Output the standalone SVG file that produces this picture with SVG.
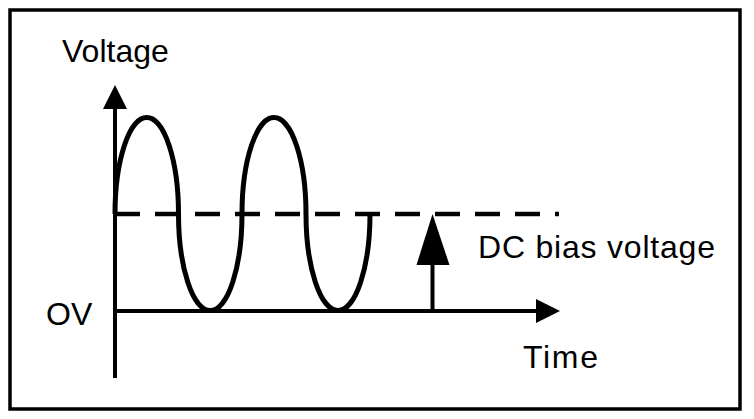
<svg xmlns="http://www.w3.org/2000/svg" width="754" height="419" viewBox="0 0 754 419">
  <style>
    .lbl { font-family: "Liberation Sans", Arial, sans-serif; font-size: 32px; fill: #000; }
    .ax { stroke: #000; stroke-width: 4; fill: none; }
    .head { fill: #000; stroke: none; }
  </style>
  <rect x="0" y="0" width="754" height="419" fill="#fff"/>
  <rect id="frame" x="10" y="10" width="730" height="399" fill="none" stroke="#000" stroke-width="3.5"/>

  <g id="axes">
    <line class="ax" x1="115" y1="378" x2="115" y2="105"/>
    <polygon class="head" points="115,85 127,109 103,109"/>
    <line class="ax" x1="115" y1="311" x2="540" y2="311"/>
    <polygon class="head" points="560,311 536,299 536,323"/>
  </g>

  <g id="dc-level">
    <line x1="115" y1="214" x2="559" y2="214" stroke="#000" stroke-width="4.5" stroke-dasharray="25 15"/>
  </g>

  <g id="wave">
    <path d="M115,214 A31.75,96.5 0 0 1 178.5,214 A31.75,96.5 0 0 0 242,214 A32,96.5 0 0 1 306,214 A32,96.5 0 0 0 370,214" fill="none" stroke="#000" stroke-width="5"/>
  </g>

  <g id="bias-arrow">
    <line class="ax" x1="432.5" y1="313" x2="432.5" y2="262" stroke-width="5"/>
    <polygon class="head" points="432.5,214 449.5,265 416.5,265"/>
  </g>

  <g id="labels">
    <text class="lbl" x="62" y="62">Voltage</text>
    <text class="lbl" x="46" y="325">OV</text>
    <text class="lbl" x="478" y="258" textLength="237" lengthAdjust="spacing">DC bias voltage</text>
    <text class="lbl" x="523" y="368" textLength="75" lengthAdjust="spacing">Time</text>
  </g>
</svg>
